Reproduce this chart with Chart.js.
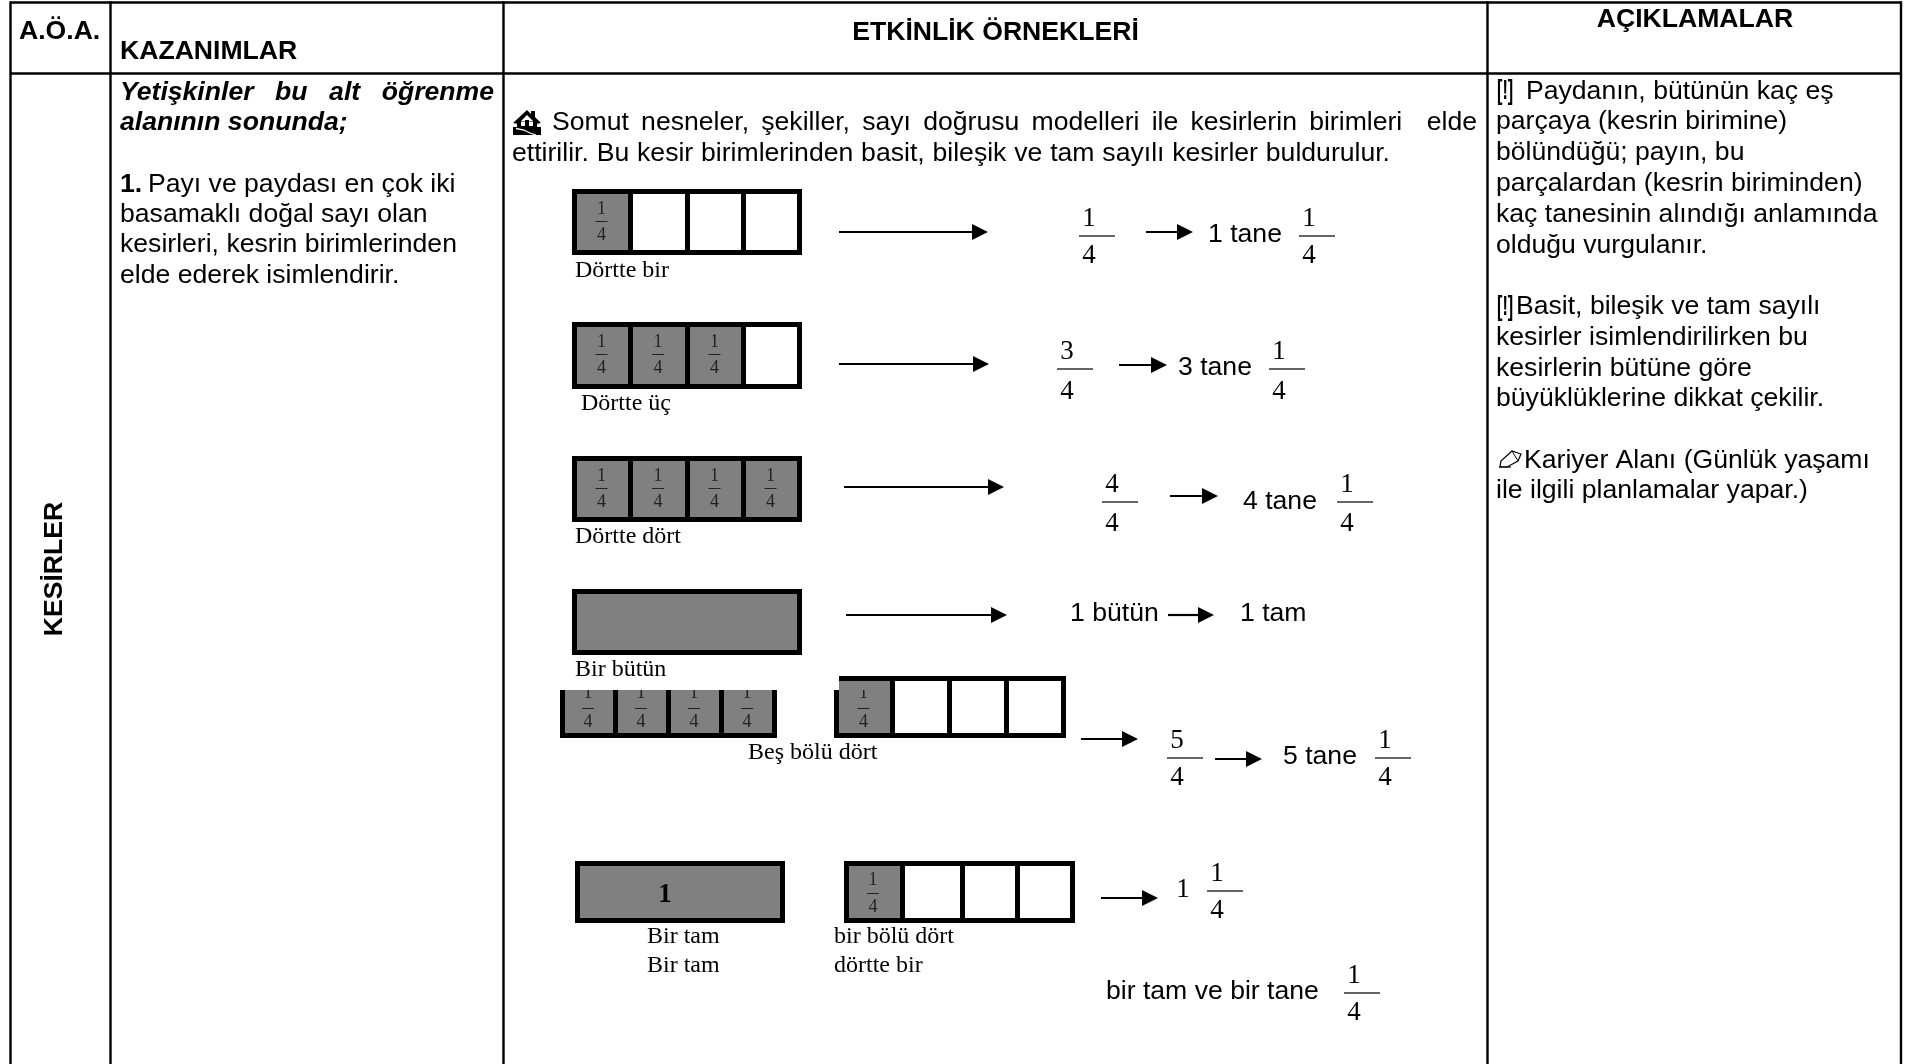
<!DOCTYPE html>
<html lang="tr"><head><meta charset="utf-8">
<style>html,body{margin:0;padding:0;background:#fff}canvas{display:block}</style>
<script src="https://cdn.jsdelivr.net/npm/chart.js@4/dist/chart.umd.min.js"></script>
</head><body><canvas id="c" width="1905" height="1064"></canvas>
<script>
// ---- content ----
const headers = ["A.Ö.A.", "KAZANIMLAR", "ETKİNLİK ÖRNEKLERİ", "AÇIKLAMALAR"];
const sideTitle = "KESİRLER";
const goalIntro = ["Yetişkinler bu alt öğrenme", "alanının sonunda;"];
const goalNumber = "1.";
const goalLines = ["Payı ve paydası en çok iki", "basamaklı doğal sayı olan", "kesirleri, kesrin birimlerinden", "elde ederek isimlendirir."];
const activityLines = ["Somut nesneler, şekiller, sayı doğrusu modelleri ile kesirlerin birimleri  elde", "ettirilir. Bu kesir birimlerinden basit, bileşik ve tam sayılı kesirler buldurulur."];
const noteLines = ["Paydanın, bütünün kaç eş", "parçaya (kesrin birimine)", "bölündüğü; payın, bu", "parçalardan (kesrin biriminden)", "kaç tanesinin alındığı anlamında", "olduğu vurgulanır."];
const noteLines2 = ["Basit, bileşik ve tam sayılı", "kesirler isimlendirilirken bu", "kesirlerin bütüne göre", "büyüklüklerine dikkat çekilir."];
const noteLines3 = ["Kariyer Alanı (Günlük yaşamı", "ile ilgili planlamalar yapar.)"];
const captions = ["Dörtte bir", "Dörtte üç", "Dörtte dört", "Bir bütün", "Beş bölü dört", "Bir tam", "Bir tam", "bir bölü dört", "dörtte bir"];
const sansNotes = ["1 tane", "3 tane", "4 tane", "1 bütün", "1 tam", "5 tane", "bir tam ve bir tane"];
const cellFillCounts = [1, 3, 4];

// ---- layout (page units on the two linear axes) ----
const W = 1905, H = 1064;
const tableV = [10.5, 110.5, 503.5, 1487.5, 1901];
const tableH = [2.5, 73.5];
const boxX = [574.5, 630.5, 687.5, 743.5, 799.5];
const boxRows = [[191.5, 252.5], [324.5, 386.5], [458.5, 519.5]];
const wholeBox = [574.5, 799.5, 591.5, 652.5];
const openLeftX = [562.5, 615.5, 668.5, 721.5, 774.5];
const openRightX = [836.5, 892.5, 949.5, 1006.5, 1063.5];
const openBox = {top: 690, topBar: 678.5, bottom: 735.5, bottomEdge: 738};
const mixedWhole = [577.5, 782.5, 863.5, 920.5];
const mixedX = [846.5, 902.5, 962.5, 1017.5, 1072.5];
const longArrows = [[839, 988, 232], [839, 989, 364], [844, 1004, 487], [846, 1007, 615], [1081, 1138, 739], [1101, 1158, 898]];
const shortArrows = [[1146, 1193, 232], [1119, 1167, 365], [1170, 1218, 496], [1168, 1214, 615], [1215, 1262, 759]];
const bigFractions = [["1", "4", 1079, 236, 27], ["1", "4", 1299, 236, 27], ["3", "4", 1057, 369, 30], ["1", "4", 1269, 369, 30], ["4", "4", 1102, 502, 29], ["1", "4", 1337, 502, 29], ["5", "4", 1167, 758, 27], ["1", "4", 1375, 758, 27], ["1", "4", 1207, 891, 27], ["1", "4", 1344, 993, 27]];
const GRAY = "#808080", BLACK = "#000";

// ---- datasets ----
const datasets = [];
const pts = a => a.map(p => ({x: p[0], y: p[1]}));
function push(d) { d.order = -datasets.length; datasets.push(d); }
function line(a, width, color) {
  push({data: pts(a), showLine: true, borderColor: color || BLACK, borderWidth: width, pointRadius: 0, fill: false, tension: 0, borderCapStyle: "butt", borderJoinStyle: "miter", clip: false});
}
function shape(a, bg, bw) {
  push({data: pts(a.concat([a[0]])), showLine: true, borderColor: bw ? BLACK : "rgba(0,0,0,0)", borderWidth: bw || 0, backgroundColor: bg, pointRadius: 0, fill: "shape", tension: 0, borderCapStyle: "square", borderJoinStyle: "miter", clip: false});
}
const rect = (x0, x1, y0, y1) => [[x0, y0], [x1, y0], [x1, y1], [x0, y1]];
tableV.forEach(x => line([[x, tableH[0] - 1.2], [x, H]], 2.4));
tableH.forEach(y => line([[tableV[0], y], [tableV[4], y]], 2.4));
boxRows.forEach((r, i) => { for (let c = 0; c < 4; c++) shape(rect(boxX[c], boxX[c + 1], r[0], r[1]), c < cellFillCounts[i] ? GRAY : "#fff", 5); });
shape(rect(wholeBox[0], wholeBox[1], wholeBox[2], wholeBox[3]), GRAY, 5);
// five-fourths: left strip (no top edge)
shape(rect(openLeftX[0], openLeftX[4], openBox.top, openBox.bottom), GRAY);
openLeftX.forEach(x => line([[x, openBox.top], [x, openBox.bottomEdge]], 5));
line([[openLeftX[0] - 2.5, openBox.bottom], [openLeftX[4] + 2.5, openBox.bottom]], 5);
// five-fourths: right strip (clipped corner)
shape(rect(openRightX[0] + 2.5, openRightX[1], openBox.topBar, openBox.bottom), GRAY);
for (let i = 1; i < 5; i++) line([[openRightX[i], openBox.topBar - 2.5], [openRightX[i], openBox.bottomEdge]], 5);
line([[openRightX[0], openBox.top], [openRightX[0], openBox.bottomEdge]], 5);
line([[openRightX[0] + 2.5, openBox.topBar], [openRightX[4] + 2.5, openBox.topBar]], 5);
line([[openRightX[0] - 2.5, openBox.bottom], [openRightX[4] + 2.5, openBox.bottom]], 5);
// one and a quarter
shape(rect(mixedWhole[0], mixedWhole[1], mixedWhole[2], mixedWhole[3]), GRAY, 5);
for (let c = 0; c < 4; c++) shape(rect(mixedX[c], mixedX[c + 1], mixedWhole[2], mixedWhole[3]), c === 0 ? GRAY : "#fff", 5);
// arrows
longArrows.concat(shortArrows).forEach(a => {
  line([[a[0], a[2]], [a[1] - 14, a[2]]], 2.2);
  shape([[a[1] - 16, a[2] - 8], [a[1], a[2]], [a[1] - 16, a[2] + 8]], BLACK);
});
// fraction bars
bigFractions.forEach(f => line([[f[2], f[3]], [f[2] + 36, f[3]]], 1.5, "#333"));
// house icon
shape([[513, 123], [527, 110], [531, 114], [531, 111], [535, 111], [535, 117], [541, 123], [536, 124], [527, 115], [518, 124]], BLACK);
shape(rect(517, 537, 121, 127), BLACK);
shape(rect(521, 533, 121.5, 126), "#fff");
shape(rect(525, 529, 120, 126), BLACK);
shape([[513, 127], [541, 127], [541, 135], [513, 135]], BLACK);
line([[516, 128.5], [524, 130], [530, 133], [536, 135]], 1.3, "#fff");
// pencil icon
shape([[1501, 461], [1512, 451], [1521, 454], [1518, 461], [1507, 467], [1500, 467]], "rgba(0,0,0,0)", 1.2);
line([[1512, 451], [1518, 461]], 1);
line([[1499, 467], [1511, 467]], 1.2);

// ---- text ----
const SANS = "'Liberation Sans'", SERIF = "'Liberation Serif'";
const T = [];
const t = (s, x, y, font, o) => T.push(Object.assign({s, x, y, font}, o || {}));
const SZ = "26.6px ";
const BOLD = "bold " + SZ + SANS, REG = SZ + SANS, BI = "italic bold " + SZ + SANS, S24 = "24px " + SERIF, S27 = "27px " + SERIF, S18 = "18px " + SERIF;
const ICON = "bold 28px " + SANS;
t(headers[0], 19, 39, BOLD); t(headers[1], 120, 59, BOLD); t(headers[2], 995.5, 40, BOLD, {align: "center"}); t(headers[3], 1695, 27, BOLD, {align: "center"});
t(sideTitle, 62, 569, BOLD, {align: "center", rot: true});
t(goalIntro[0], 120, 100, BI, {to: 494}); t(goalIntro[1], 120, 130, BI);
t(goalNumber, 120, 192, BOLD); t(goalLines[0], 148, 192, REG);
[222, 252, 283].forEach((y, i) => t(goalLines[i + 1], 120, y, REG));
t(activityLines[0], 552, 130, REG, {to: 1477}); t(activityLines[1], 512, 161, REG, {to: 1390});
t("[!]", 1497, 99, ICON, {sx: 0.58}); t(noteLines[0], 1526, 99, REG);
[129, 160, 191, 222, 253].forEach((y, i) => t(noteLines[i + 1], 1496, y, REG));
t("[!]", 1497, 315, ICON, {sx: 0.58}); t(noteLines2[0], 1516, 314, REG);
[345, 376, 406].forEach((y, i) => t(noteLines2[i + 1], 1496, y, REG));
t(noteLines3[0], 1524, 468, REG); t(noteLines3[1], 1496, 498, REG);
[[575, 277], [581, 410], [575, 543], [575, 676], [748, 759], [647, 943], [647, 972], [834, 943], [834, 972]].forEach((p, i) => t(captions[i], p[0], p[1], S24));
[[1208, 242], [1178, 375], [1243, 509], [1070, 621], [1240, 621], [1283, 764], [1106, 999]].forEach((p, i) => t(sansNotes[i], p[0], p[1], REG));
bigFractions.forEach(f => { t(f[0], f[2] + 10, f[3] - 10, S27, {align: "center"}); t(f[1], f[2] + 10, f[3] + f[4], S27, {align: "center"}); });
t("1", 1183, 897, S27, {align: "center"});
t("1", 665, 902, "bold 27px " + SERIF, {align: "center"});
function cellFraction(cx, top, numBase, clip) {
  T.push({s: "1", x: cx, y: numBase, font: S18, align: "center", color: "#222", clip});
  T.push({s: "4", x: cx, y: top + 51, font: S18, align: "center", color: "#222"});
  T.push({bar: true, x: cx, y: top + 32});
}
boxRows.forEach((r, i) => { for (let c = 0; c < cellFillCounts[i]; c++) cellFraction((boxX[c] + boxX[c + 1]) / 2 - 1, r[0] - 2.5, r[0] + 22); });
for (let c = 0; c < 4; c++) cellFraction((openLeftX[c] + openLeftX[c + 1]) / 2 - 1, 676, 698, 690);
cellFraction((openRightX[0] + openRightX[1]) / 2 - 1, 676, 698, 690);
cellFraction(873, 861, 885);

const textPlugin = {id: "docText", afterDatasetsDraw(chart) {
  const ctx = chart.ctx, X = chart.scales.x, Y = chart.scales.y;
  T.forEach(o => {
    const px = X.getPixelForValue(o.x), py = Y.getPixelForValue(o.y);
    ctx.save();
    if (o.bar) { ctx.fillStyle = "#222"; ctx.fillRect(px - 6, py, 12, 1); ctx.restore(); return; }
    if (o.clip) { ctx.beginPath(); ctx.rect(0, Y.getPixelForValue(o.clip), W, H); ctx.clip(); }
    ctx.font = o.font; ctx.fillStyle = o.color || "#000"; ctx.textBaseline = "alphabetic"; ctx.textAlign = o.align || "left";
    if (o.to) { const gaps = o.s.split(" ").length - 1; ctx.wordSpacing = ((o.to - o.x - ctx.measureText(o.s).width) / gaps) + "px"; }
    if (o.rot) { ctx.translate(px, py); ctx.rotate(-Math.PI / 2); ctx.fillText(o.s, 0, 0); }
    else if (o.sx) { ctx.translate(px, py); ctx.scale(o.sx, 1); ctx.fillText(o.s, 0, 0); }
    else ctx.fillText(o.s, px, py);
    ctx.restore();
  });
}};

new Chart(document.getElementById("c"), {
  type: "scatter",
  data: {datasets},
  plugins: [textPlugin],
  options: {
    responsive: false, animation: false, events: [],
    layout: {padding: 0},
    plugins: {legend: {display: false}, tooltip: {enabled: false}},
    scales: {
      x: {type: "linear", min: 0, max: W, display: false},
      y: {type: "linear", min: 0, max: H, reverse: true, display: false}
    }
  }
});
</script></body></html>
